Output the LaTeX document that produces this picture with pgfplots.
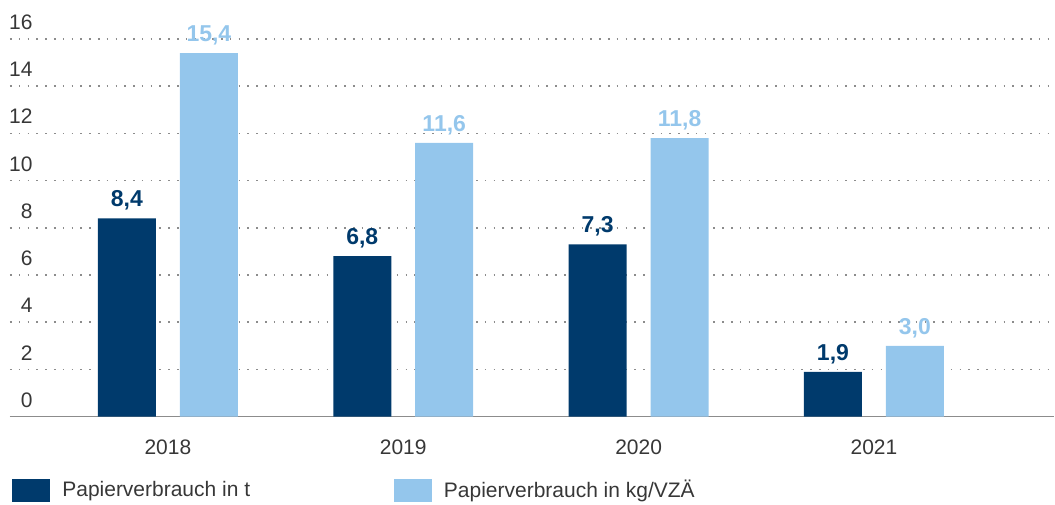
\documentclass[border=0pt]{standalone}
\usepackage{fontspec}
\setmainfont{Liberation Sans}
\usepackage{pgfplots}
\pgfplotsset{compat=1.18}
\definecolor{darkbar}{RGB}{0,58,108}
\definecolor{lightbar}{RGB}{148,198,236}
\definecolor{txt}{RGB}{55,55,55}
\definecolor{gridc}{RGB}{140,140,140}

\begin{document}
\begin{tikzpicture}
\begin{axis}[
    name=ax,
    scale only axis,
    width=522.5pt, height=189pt,
    xmin=-0.671, xmax=3.766,
    ymin=0, ymax=16,
    ybar=12pt, bar width=29pt,
    ytick={0,2,...,16},
    xtick={0,1,2,3},
    xticklabels={2018,2019,2020,2021},
    major tick length=0pt,
    axis lines=left,
    axis line style={-},
    y axis line style={draw=none},
    x axis line style={draw=gridc, line width=0.8pt},
    ymajorgrids,
    grid style={gridc, line width=0.8pt, dash pattern=on 0.8pt off 3.6pt},
    tick label style={font=\fontsize{10.5}{12}\selectfont, text=txt, inner sep=0pt},
    /pgf/number format/assume math mode=true,
    yticklabel style={anchor=south east, xshift=11.5pt, yshift=4.5pt},
    xticklabel style={anchor=north, yshift=-11.5pt},
    nodes near coords={\pgfmathprintnumber[fixed, fixed zerofill, precision=1, use comma]{\pgfplotspointmeta}},
    every node near coord/.append style={font=\fontsize{11.5}{13}\selectfont\bfseries, yshift=0.5pt},
    legend columns=2,
    legend style={at={(rel axis cs:0,0)}, anchor=north west, xshift=1pt, yshift=-29.5pt,
        draw=none, fill=none, inner sep=0pt, font=\fontsize{10.5}{12}\selectfont,
        text=txt,
        /tikz/every odd column/.style={column sep=4pt},
        /tikz/column 2/.style={column sep=70pt}},
    legend image code/.code={\fill[#1] (0pt,-5.75pt) rectangle (19pt,5.75pt);},
    clip=false,
]
\addplot[fill=darkbar, draw=none,
    every node near coord/.append style={text=darkbar}]
    coordinates {(0,8.4) (1,6.8) (2,7.3) (3,1.9)};
\addlegendentry{Papierverbrauch in t}
\addplot[fill=lightbar, draw=none,
    every node near coord/.append style={text=lightbar}]
    coordinates {(0,15.4) (1,11.6) (2,11.8) (3,3.0)};
\addlegendentry{Papierverbrauch in kg/VZÄ}
\end{axis}
\path (ax.south west) ++(-5pt,-42pt);
\path (ax.north east) ++(0pt,19.5pt);
\end{tikzpicture}
\end{document}
